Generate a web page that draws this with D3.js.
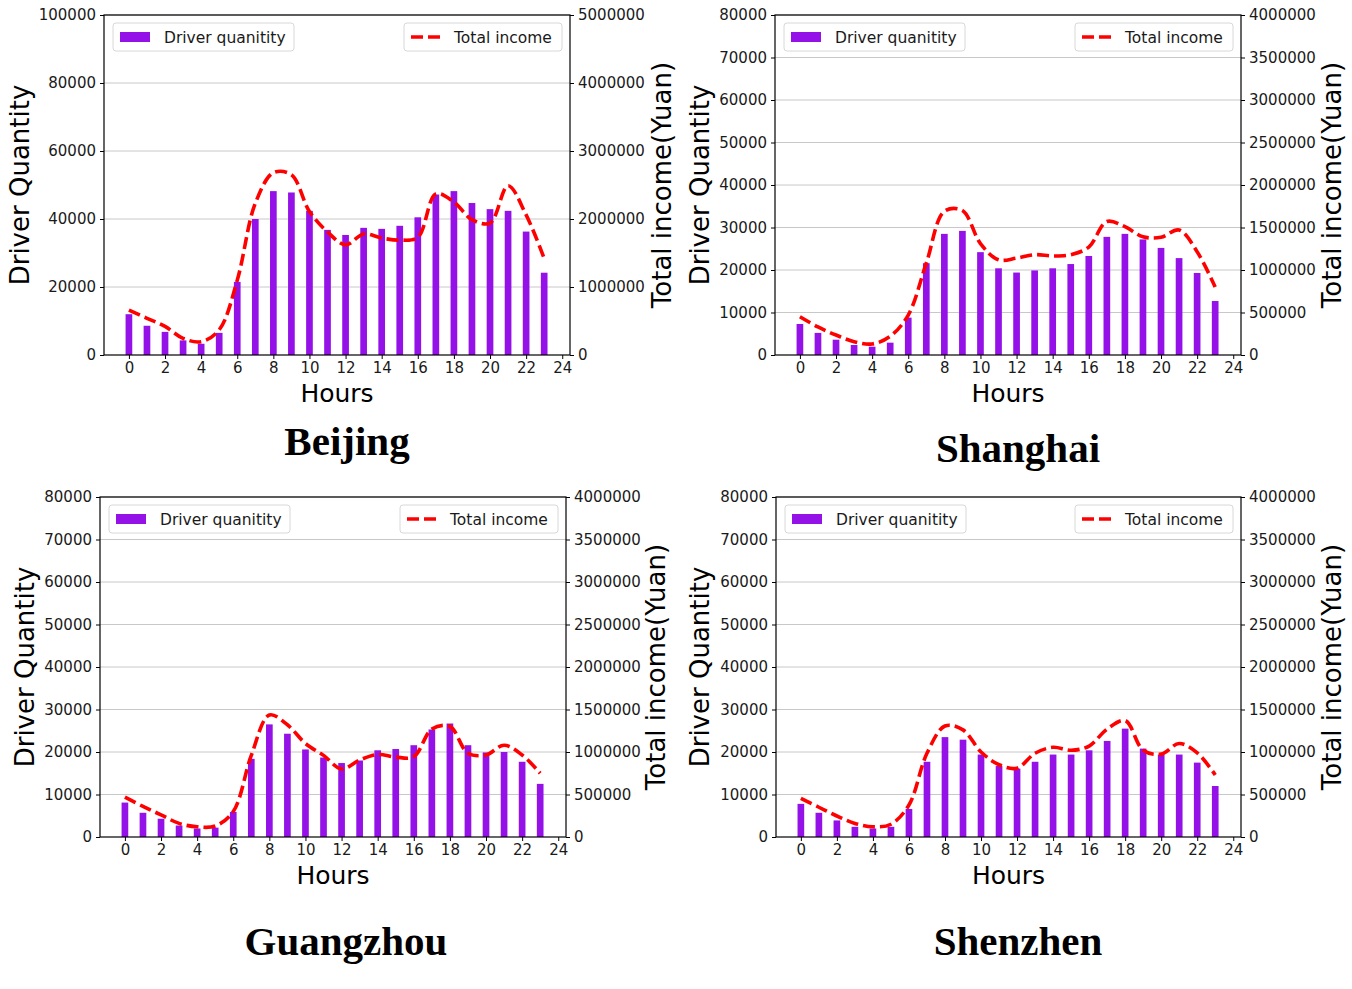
<!DOCTYPE html>
<head>
    <meta charset="utf-8">
    <title>Driver quantity and income by hour</title>
    <script type="text/javascript" src="https://d3js.org/d3.v7.min.js"></script>
    <style>
        body { margin: 0; background: #fff; }
        svg text { font-family: "DejaVu Sans", sans-serif; }
    </style>
</head>
<body>
<div id="container"></div>
<script>
    //-----------------------------DATA------------------------------//
    const hours = [0, 1, 2, 3, 4, 5, 6, 7, 8, 9, 10, 11, 12, 13, 14, 15, 16, 17, 18, 19, 20, 21, 22, 23];
    const hourTicks = [0, 2, 4, 6, 8, 10, 12, 14, 16, 18, 20, 22, 24];

    const beijingDrivers = [12000, 8600, 6800, 4300, 3300, 6500, 21500, 40000, 48200, 47800, 42400, 36800,
        35300, 37400, 37100, 38000, 40500, 47200, 48200, 44700, 42900, 42400, 36300, 24200];
    const beijingIncome = [660000, 540000, 420000, 245000, 196000, 370000, 1100000, 2230000, 2680000, 2650000, 2110000, 1810000,
        1620000, 1780000, 1720000, 1690000, 1730000, 2370000, 2250000, 1990000, 1940000, 2490000, 2060000, 1420000];

    const shanghaiDrivers = [7300, 5200, 3600, 2350, 1960, 2900, 8800, 21600, 28500, 29200, 24200, 20400,
        19400, 19900, 20400, 21400, 23300, 27800, 28500, 27200, 25200, 22800, 19300, 12700];
    const shanghaiIncome = [450000, 330000, 235000, 157000, 130000, 220000, 470000, 1080000, 1690000, 1700000, 1310000, 1120000,
        1140000, 1180000, 1165000, 1180000, 1270000, 1570000, 1510000, 1390000, 1385000, 1470000, 1215000, 800000];

    const guangzhouDrivers = [8100, 5700, 4300, 2700, 2000, 2200, 5900, 18400, 26500, 24300, 20600, 18700,
        17400, 18000, 20400, 20700, 21600, 25300, 26700, 21600, 19900, 20000, 17700, 12500];
    const guangzhouIncome = [470000, 360000, 260000, 160000, 120000, 130000, 300000, 960000, 1435000, 1320000, 1100000, 960000,
        800000, 905000, 970000, 940000, 945000, 1270000, 1300000, 985000, 965000, 1080000, 965000, 750000];

    const shenzhenDrivers = [7800, 5700, 3900, 2400, 2000, 2400, 6600, 17700, 23500, 22900, 19400, 16700,
        16100, 17700, 19400, 19400, 20400, 22600, 25500, 20800, 19400, 19400, 17500, 12000];
    const shenzhenIncome = [455000, 350000, 247000, 160000, 120000, 150000, 376000, 985000, 1306000, 1260000, 1000000, 850000,
        810000, 985000, 1055000, 1020000, 1070000, 1270000, 1370000, 1020000, 975000, 1100000, 990000, 730000];

    const cities = ["Beijing", "Shanghai", "Guangzhou", "Shenzhen"];
    const driverMax = [100000, 80000, 80000, 80000];
    const driverStep = [20000, 10000, 10000, 10000];
    const incomeMax = [5000000, 4000000, 4000000, 4000000];
    const incomeStep = [1000000, 500000, 500000, 500000];

    //-----------------------------LAYOUT----------------------------//
    const width = 1352;
    const height = 989;
    const barColor = "#9412e8";
    const lineColor = "#ff0000";

    // plot boxes
    const panels = [
        {left: 104, right: 570, top: 15, bottom: 355, ylab: 20, rlab: 662, titleY: 455, titleX: 347},
        {left: 775, right: 1241, top: 15, bottom: 355, ylab: 700, rlab: 1332, titleY: 462, titleX: 1018},
        {left: 100, right: 566, top: 497, bottom: 837, ylab: 25, rlab: 656, titleY: 955, titleX: 346},
        {left: 776, right: 1241, top: 497, bottom: 837, ylab: 700, rlab: 1332, titleY: 955, titleX: 1018}
    ];
    const drivers = [beijingDrivers, shanghaiDrivers, guangzhouDrivers, shenzhenDrivers];
    const incomes = [beijingIncome, shanghaiIncome, guangzhouIncome, shenzhenIncome];

    const svg = d3.select("div#container").append("svg")
        .attr("width", width)
        .attr("height", height);

    //-----------------------------DRAWING---------------------------//
    panels.forEach(function(p, i) {
        const g = svg.append("g");

        const xScale = d3.scaleLinear().domain([-1.38, 24.43]).range([p.left, p.right]);
        const yScale = d3.scaleLinear().domain([0, driverMax[i]]).range([p.bottom, p.top]);
        const y2Scale = d3.scaleLinear().domain([0, incomeMax[i]]).range([p.bottom, p.top]);

        const yTicks = d3.range(0, driverMax[i] + 1, driverStep[i]);
        const y2Ticks = d3.range(0, incomeMax[i] + 1, incomeStep[i]);

        // grid
        g.append("g").selectAll("line")
            .data(yTicks.slice(1))
            .enter().append("line")
            .attr("x1", p.left).attr("x2", p.right)
            .attr("y1", d => yScale(d)).attr("y2", d => yScale(d))
            .attr("stroke", "#c8c8c8")
            .attr("stroke-width", 1);

        // bars
        const bw = xScale(0.37) - xScale(0);
        g.append("g").selectAll("rect")
            .data(hours)
            .enter().append("rect")
            .attr("x", d => xScale(d) - bw / 2)
            .attr("y", (d, k) => yScale(drivers[i][k]))
            .attr("width", bw)
            .attr("height", (d, k) => p.bottom - yScale(drivers[i][k]))
            .attr("fill", barColor);

        // income line
        const line = d3.line()
            .x((d, k) => xScale(hours[k]))
            .y(d => y2Scale(d))
            .curve(d3.curveCatmullRom);

        g.append("path")
            .attr("d", line(incomes[i]))
            .attr("fill", "none")
            .attr("stroke", lineColor)
            .attr("stroke-width", 3.6)
            .attr("stroke-dasharray", "12,5");

        // axes
        const xAxis = d3.axisBottom(xScale).tickValues(hourTicks).tickSize(4).tickPadding(3);
        const yAxis = d3.axisLeft(yScale).tickValues(yTicks).tickSize(4).tickPadding(4).tickFormat(d3.format("d"));
        const y2Axis = d3.axisRight(y2Scale).tickValues(y2Ticks).tickSize(4).tickPadding(4).tickFormat(d3.format("d"));

        [g.append("g").attr("transform", "translate(0," + p.bottom + ")").call(xAxis),
         g.append("g").attr("transform", "translate(" + p.left + ",0)").call(yAxis),
         g.append("g").attr("transform", "translate(" + p.right + ",0)").call(y2Axis)
        ].forEach(function(a) {
            a.select(".domain").remove();
            a.selectAll("line").attr("stroke", "#000");
            a.selectAll("text").attr("font-size", 15).attr("fill", "#1a1a1a")
                .style("font-family", "DejaVu Sans");
        });

        // frame
        g.append("rect")
            .attr("x", p.left).attr("y", p.top)
            .attr("width", p.right - p.left).attr("height", p.bottom - p.top)
            .attr("fill", "none").attr("stroke", "#000").attr("stroke-width", 1.2);

        // labels
        g.append("text")
            .attr("transform", "translate(" + p.ylab + "," + ((p.top + p.bottom) / 2) + ") rotate(-90)")
            .attr("text-anchor", "middle")
            .attr("dy", "0.36em")
            .attr("font-size", 26)
            .text("Driver Quantity");

        g.append("text")
            .attr("transform", "translate(" + p.rlab + "," + ((p.top + p.bottom) / 2) + ") rotate(-90)")
            .attr("text-anchor", "middle")
            .attr("dy", "0.36em")
            .attr("font-size", 26)
            .text("Total income(Yuan)");

        g.append("text")
            .attr("x", (p.left + p.right) / 2)
            .attr("y", p.bottom + 47)
            .attr("text-anchor", "middle")
            .attr("font-size", 25)
            .text("Hours");

        g.append("text")
            .attr("x", p.titleX)
            .attr("y", p.titleY)
            .attr("text-anchor", "middle")
            .attr("font-size", 41)
            .attr("font-weight", "bold")
            .style("font-family", "'Liberation Serif', 'Times New Roman', serif")
            .text(cities[i]);

        //-----------------------------LEGENDS---------------------------//
        const lg1 = g.append("g").attr("transform", "translate(" + (p.left + 9) + "," + (p.top + 8) + ")");
        lg1.append("rect")
            .attr("width", 181).attr("height", 28).attr("rx", 3)
            .attr("fill", "#fff").attr("fill-opacity", 0.8)
            .attr("stroke", "#d8d8d8");
        lg1.append("rect")
            .attr("x", 7).attr("y", 9).attr("width", 30).attr("height", 10)
            .attr("fill", barColor);
        lg1.append("text")
            .attr("x", 51).attr("y", 19.5)
            .attr("font-size", 15.5)
            .attr("fill", "#1a1a1a")
            .text("Driver quanitity");

        const lg2 = g.append("g").attr("transform", "translate(" + (p.right - 166) + "," + (p.top + 8) + ")");
        lg2.append("rect")
            .attr("width", 158).attr("height", 28).attr("rx", 3)
            .attr("fill", "#fff").attr("fill-opacity", 0.8)
            .attr("stroke", "#d8d8d8");
        lg2.append("line")
            .attr("x1", 7).attr("x2", 37).attr("y1", 14).attr("y2", 14)
            .attr("stroke", lineColor).attr("stroke-width", 3.6)
            .attr("stroke-dasharray", "12,5");
        lg2.append("text")
            .attr("x", 50).attr("y", 19.5)
            .attr("font-size", 15.5)
            .attr("fill", "#1a1a1a")
            .text("Total income");
    });
</script>
</body>
